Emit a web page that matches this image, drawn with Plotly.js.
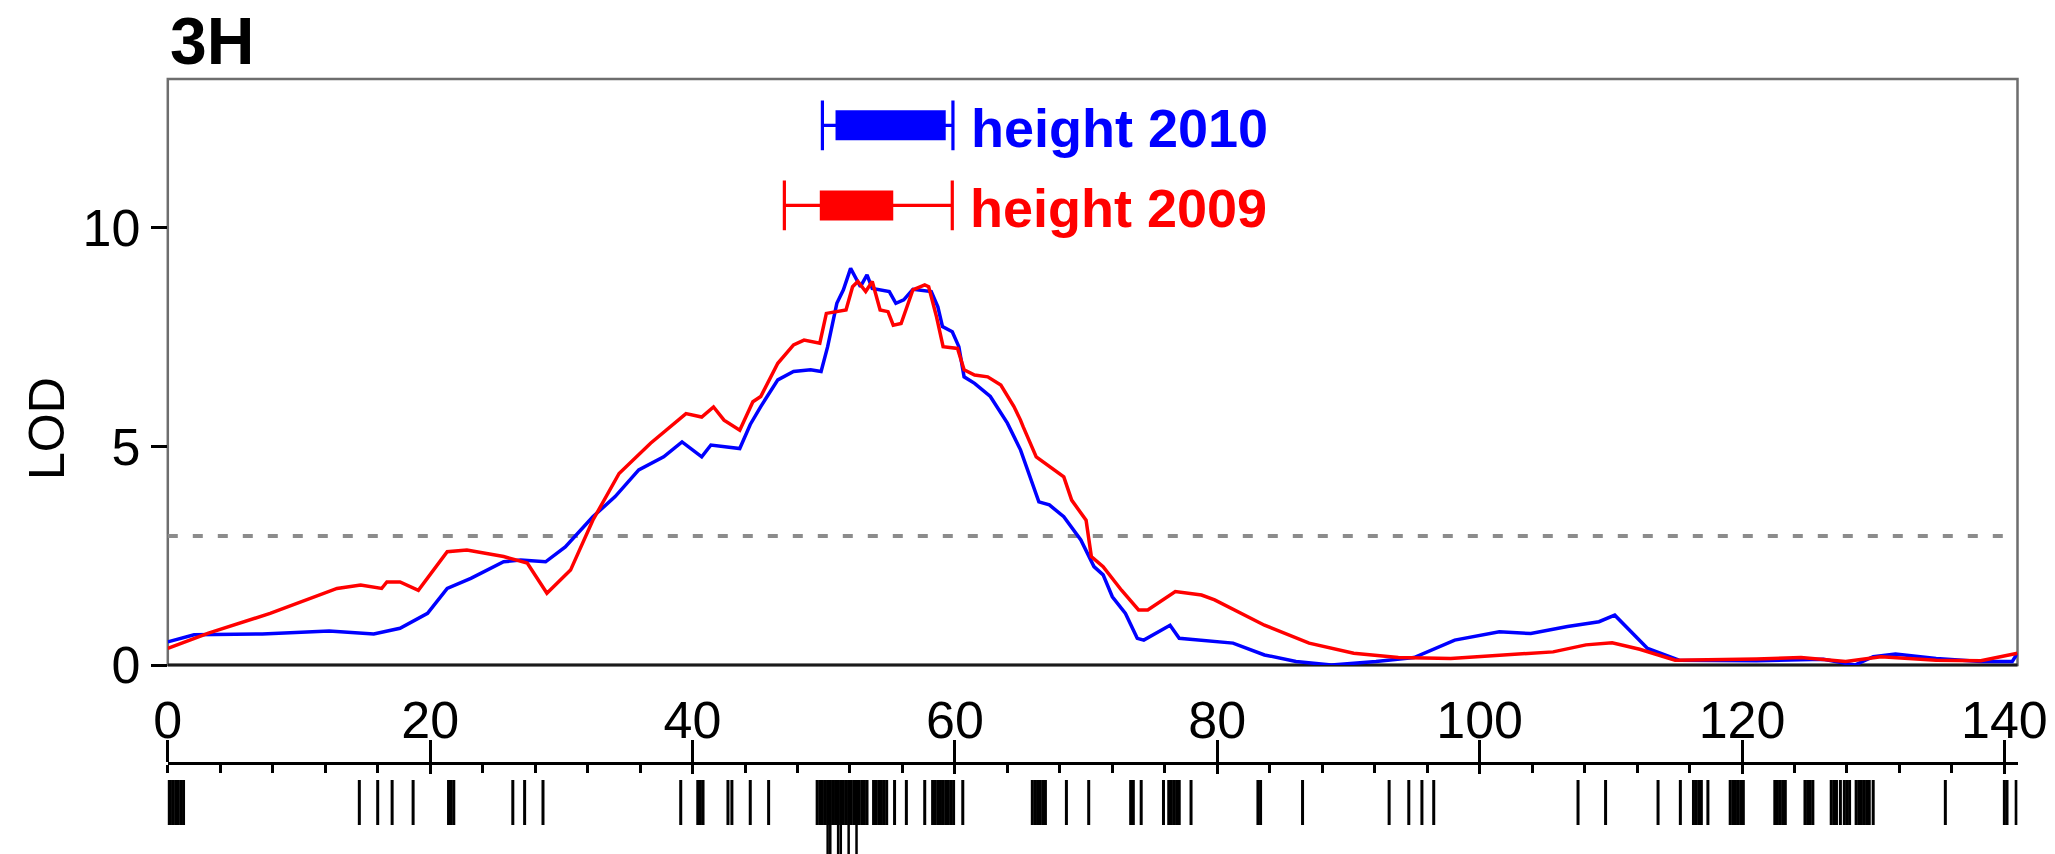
<!DOCTYPE html>
<html>
<head>
<meta charset="utf-8">
<script src="https://cdn.plot.ly/plotly-3.0.1.min.js"></script>
<style>
html,body{margin:0;padding:0;background:#fff;}
#chart{width:2055px;height:854px;}
</style>
</head>
<body>
<div id="chart"></div>
<script>
// ---------------- data ----------------
const chromosome = "3H";
const traitNames = ["height 2010", "height 2009"];
const traitColors = ["#0000ff", "#ff0000"];

// LOD profile, height 2010 (blue)
const posH2010 = [0, 2.0, 7.2, 12.3, 15.7, 17.7, 19.8, 21.3, 23.1, 25.6, 26.9, 28.8, 30.3, 32.4, 34.1, 35.9, 37.8, 39.2, 40.7, 41.4, 43.6, 44.4, 45.2, 46.5, 47.7, 49.0, 49.8, 50.3, 51.0, 51.5, 52.05, 52.4, 52.8, 53.3, 53.7, 55.0, 55.5, 56.1, 56.8, 58.2, 58.7, 59.05, 59.8, 60.3, 60.7, 61.5, 62.7, 64.0, 65.0, 66.4, 67.2, 68.3, 69.6, 70.6, 71.3, 72.0, 73.0, 73.9, 74.4, 76.4, 77.1, 81.2, 83.6, 86.0, 88.7, 92.1, 95.0, 98.1, 101.5, 103.9, 106.7, 109.1, 110.3, 112.8, 115.2, 121.1, 126.2, 128.6, 130.0, 131.7, 134.8, 138.2, 140.6, 141.0];
const lodH2010 = [0.53, 0.69, 0.71, 0.78, 0.71, 0.84, 1.18, 1.75, 1.98, 2.36, 2.40, 2.36, 2.70, 3.39, 3.85, 4.46, 4.76, 5.10, 4.76, 5.03, 4.95, 5.50, 5.91, 6.52, 6.71, 6.75, 6.71, 7.28, 8.27, 8.58, 9.07, 8.88, 8.65, 8.92, 8.61, 8.54, 8.27, 8.35, 8.59, 8.54, 8.19, 7.74, 7.62, 7.28, 6.59, 6.44, 6.14, 5.53, 4.92, 3.73, 3.66, 3.39, 2.86, 2.25, 2.06, 1.56, 1.18, 0.61, 0.57, 0.91, 0.61, 0.50, 0.23, 0.08, 0.00, 0.08, 0.17, 0.57, 0.76, 0.72, 0.88, 0.99, 1.14, 0.38, 0.11, 0.10, 0.13, 0.00, 0.19, 0.25, 0.15, 0.08, 0.08, 0.27];

// LOD profile, height 2009 (red)
const posH2009 = [0, 3.1, 7.8, 12.9, 14.7, 16.3, 16.7, 17.7, 19.1, 21.3, 22.8, 25.6, 27.4, 28.9, 30.7, 32.4, 34.4, 36.8, 39.5, 40.7, 41.6, 42.4, 43.6, 44.6, 45.2, 46.5, 47.7, 48.5, 49.7, 50.2, 51.7, 52.2, 52.6, 53.2, 53.7, 54.3, 54.9, 55.3, 55.9, 56.4, 56.8, 57.7, 58.0, 58.6, 59.1, 60.2, 60.7, 61.5, 62.5, 63.5, 64.5, 65.0, 65.2, 66.2, 68.3, 68.9, 70.0, 70.4, 71.3, 72.7, 74.0, 74.7, 76.8, 78.8, 79.8, 83.6, 87.0, 90.4, 93.8, 97.8, 100.5, 105.6, 108.1, 110.1, 112.2, 114.9, 121.1, 124.5, 127.9, 130.6, 134.8, 138.2, 141.0];
const lodH2009 = [0.38, 0.73, 1.18, 1.75, 1.83, 1.75, 1.90, 1.90, 1.71, 2.59, 2.63, 2.48, 2.33, 1.64, 2.17, 3.31, 4.38, 5.07, 5.75, 5.67, 5.90, 5.60, 5.37, 6.02, 6.14, 6.90, 7.32, 7.43, 7.36, 8.04, 8.12, 8.65, 8.77, 8.54, 8.77, 8.12, 8.08, 7.77, 7.81, 8.27, 8.58, 8.69, 8.65, 7.96, 7.28, 7.24, 6.75, 6.63, 6.59, 6.40, 5.91, 5.60, 5.45, 4.76, 4.30, 3.77, 3.31, 2.48, 2.25, 1.71, 1.26, 1.26, 1.68, 1.60, 1.49, 0.91, 0.50, 0.27, 0.17, 0.15, 0.20, 0.30, 0.46, 0.51, 0.36, 0.11, 0.14, 0.17, 0.08, 0.19, 0.11, 0.10, 0.27];

// QTL support intervals (outer whiskers and inner box), and their LOD level in the panel
const ciOuterLow  = [49.9, 47.0];
const ciOuterHigh = [59.85, 59.8];
const ciInnerLow  = [50.9, 49.7];
const ciInnerHigh = [59.3, 55.3];
const ciLevel     = [12.34, 10.51];

const lodThreshold = 2.95;

// genetic map: marker positions (cM)
const markerPos = [0, 0.2, 0.4, 0.6, 0.8, 1.0, 1.2,
  14.6, 16.0, 17.1, 18.7, 21.4, 21.6, 21.8, 26.3, 27.2, 28.6,
  39.1, 40.4, 40.6, 40.8, 42.7, 43.0, 44.4, 45.8,
  49.5, 49.7, 49.9, 50.1, 50.3, 50.5, 50.7, 50.9, 51.1, 51.3, 51.5, 51.7, 51.9, 52.1, 52.3, 52.5, 52.7, 52.9, 53.1, 53.3,
  53.8, 54.0, 54.2, 54.4, 54.6, 54.8, 55.4, 56.3, 57.7,
  58.3, 58.5, 58.7, 58.9, 59.1, 59.3, 59.5, 59.7, 59.9, 60.6,
  65.9, 66.1, 66.3, 66.5, 66.7, 66.9, 68.5, 70.2, 73.4, 73.6, 74.2,
  75.9, 76.3, 76.5, 76.7, 76.9, 77.1, 78.0, 83.1, 83.3, 86.5,
  93.1, 94.6, 95.6, 96.5, 107.5, 109.6, 113.6, 115.3, 116.3, 116.5, 116.7, 116.9, 117.4,
  119.1, 119.3, 119.5, 119.7, 119.9, 120.1, 122.5, 122.7, 122.9, 123.1, 123.3,
  124.8, 125.0, 125.2, 125.4, 126.8, 127.0, 127.2, 127.5, 127.8, 128.0, 128.2,
  128.7, 128.9, 129.1, 129.3, 129.5, 129.7, 130.0, 135.5, 140.0, 140.2, 140.9];
// markers sharing a position (drawn as the longer stacked lines)
const markerStacked = [50.3, 50.5, 51.1, 51.3, 51.9, 52.5];

const xTickVals = [0, 20, 40, 60, 80, 100, 120, 140];
const yTickVals = [0, 5, 10];

// ---------------- figure ----------------
const W = 2055, H = 854;
const plotLeft = 167.8, plotRight = 2017.5, plotTop = 79, plotBottom = 665;
const mapLine = 765;
const xDom = [plotLeft / W, plotRight / W];

function segs(positions, y0, y1) {
  const xs = [], ys = [];
  positions.forEach(p => { xs.push(p, p, null); ys.push(y0, y1, null); });
  return {xs, ys};
}

const traces = [];
traces.push({type:'scatter', mode:'lines', x: posH2010, y: lodH2010, xaxis:'x', yaxis:'y',
  line:{color: traitColors[0], width:3.5}, hoverinfo:'skip'});
traces.push({type:'scatter', mode:'lines', x: posH2009, y: lodH2009, xaxis:'x', yaxis:'y',
  line:{color: traitColors[1], width:3.5}, hoverinfo:'skip'});

const capHalf = 0.57;
for (let i = 0; i < traitNames.length; i++) {
  const lv = ciLevel[i];
  traces.push({type:'scatter', mode:'lines',
    x:[ciOuterLow[i], ciOuterHigh[i], null, ciOuterLow[i], ciOuterLow[i], null, ciOuterHigh[i], ciOuterHigh[i]],
    y:[lv, lv, null, lv - capHalf, lv + capHalf, null, lv - capHalf, lv + capHalf],
    xaxis:'x', yaxis:'y', line:{color: traitColors[i], width:3.2}, hoverinfo:'skip'});
  traces.push({type:'scatter', mode:'lines',
    x:[ciInnerLow[i], ciInnerHigh[i]], y:[lv, lv],
    xaxis:'x', yaxis:'y', line:{color: traitColors[i], width:30}, hoverinfo:'skip'});
}

const m1 = segs(markerPos, -15, -60);
traces.push({type:'scatter', mode:'lines', x: m1.xs, y: m1.ys, xaxis:'x2', yaxis:'y2',
  line:{color:'#000', width:3}, hoverinfo:'skip'});
const m2 = segs(markerStacked, -15, -100);
traces.push({type:'scatter', mode:'lines', x: m2.xs, y: m2.ys, xaxis:'x3', yaxis:'y2',
  line:{color:'#000', width:2.5}, hoverinfo:'skip'});

const annotations = traitNames.map((t, i) => ({
  xref:'x', yref:'y', x: ciOuterHigh[i], y: ciLevel[i], xanchor:'left', yanchor:'middle',
  xshift: 16, yshift: -3, showarrow:false, text:'<b>' + t + '</b>',
  font:{size:54, color: traitColors[i], family:'Liberation Sans, Arial, sans-serif'}
}));
annotations.push({xref:'paper', yref:'paper', x: 47 / W, y: 1 - 429 / H, textangle:-90,
  xanchor:'center', yanchor:'middle', showarrow:false, text:'LOD',
  font:{size:50, color:'#000'}});

const layout = {
  width: W, height: H, margin:{l:0, r:0, t:0, b:0},
  paper_bgcolor:'#fff', plot_bgcolor:'rgba(0,0,0,0)', showlegend:false,
  font:{family:'Liberation Sans, Arial, sans-serif', color:'#000'},
  title:{text:'<b>' + chromosome + '</b>', font:{size:66, color:'#000'},
    x: 170 / W, xanchor:'left', y: 1 - 41 / H, yanchor:'middle'},
  xaxis:{domain: xDom, range:[0, 141], anchor:'y', showgrid:false, zeroline:false,
    showticklabels:false, ticks:'', showline:false, automargin:false},
  yaxis:{domain:[(H - plotBottom) / H, (H - plotTop) / H], range:[0, 13.4], anchor:'x',
    tickvals: yTickVals, ticks:'outside', ticklen:16, tickwidth:3, tickcolor:'#000',
    tickfont:{size:52}, showgrid:false, zeroline:false, showline:false, automargin:false},
  xaxis2:{domain: xDom, matches:'x', anchor:'y2', side:'top', showline:true, linecolor:'#000',
    linewidth:3.5, tickvals: xTickVals, ticks:'outside', ticklen:22, tickwidth:3, tickcolor:'#000',
    tickfont:{size:52}, ticklabelstandoff:-19, showgrid:false, zeroline:false, automargin:false,
    minor:{tick0:0, dtick:4, ticks:'inside', ticklen:8, tickwidth:3, tickcolor:'#000', showgrid:false}},
  xaxis3:{domain: xDom, matches:'x', anchor:'y2', overlaying:'x2', side:'top', showline:false,
    tickvals: xTickVals, ticks:'inside', ticklen:9, tickwidth:3, tickcolor:'#000',
    showticklabels:false, showgrid:false, zeroline:false, automargin:false},
  yaxis2:{domain:[0, (H - mapLine) / H], range:[-(H - mapLine), 0], anchor:'x2', visible:false,
    showgrid:false, zeroline:false},
  shapes:[
    {type:'rect', xref:'x domain', yref:'y domain', x0:0, x1:1, y0:0, y1:1,
      line:{color:'#6e6e6e', width:2.5}, layer:'below'},
    {type:'line', xref:'x domain', yref:'y', x0:0, x1:1, y0: lodThreshold, y1: lodThreshold,
      line:{color:'#8c8c8c', width:4, dash:'10px,15px'}, layer:'below'},
    {type:'line', xref:'x domain', yref:'y domain', x0:0, x1:1, y0:0, y1:0,
      line:{color:'#1a1a1a', width:3}, layer:'below'}
  ],
  annotations: annotations
};

Plotly.newPlot('chart', traces, layout, {displayModeBar:false, staticPlot:true});
</script>
</body>
</html>
